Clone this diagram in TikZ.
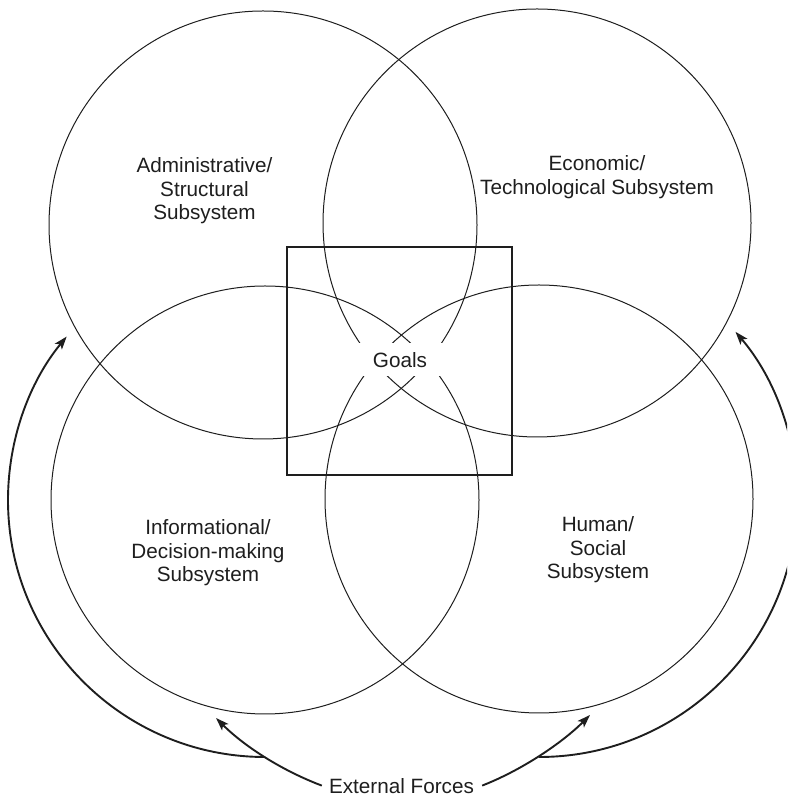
\documentclass[tikz,border=0pt]{standalone}
\usepackage{fontspec}
\setmainfont{Liberation Sans}
\usetikzlibrary{arrows.meta}
\definecolor{ink}{RGB}{30,30,30}
\begin{document}
\begin{tikzpicture}[x=1pt,y=1pt,
  ring/.style={draw=ink,line width=1pt,circle,minimum size=428pt,inner sep=0pt},
  goalbox/.style={draw=ink,line width=1.1pt,minimum width=225pt,minimum height=228pt,inner sep=0pt},
  lbl/.style={align=center,font=\fontsize{20.7}{23.5}\selectfont,text=ink,inner sep=0pt},
  force/.style={draw=ink,line width=1.9pt,-{Stealth[length=13pt,width=9pt,inset=3pt]}}]
\useasboundingbox (0,0) rectangle (787,797);
\clip (0,0) rectangle (787,797);
% subsystem circles
\node[ring] (adm) at (263,572) {};
\node[ring] (eco) at (537,574) {};
\node[ring] (inf) at (265,297) {};
\node[ring] (hum) at (539,298) {};
% goals square
\node[goalbox] (sq) at (399.5,436) {};
\node[lbl,fill=white,minimum width=120pt,minimum height=33pt] (goals) at (400,437) {Goals};
% labels
\node[lbl] (admt) at (204.5,606) {Administrative/\\Structural\\Subsystem};
\node[lbl] (ecot) at (597,620) {Economic/\\Technological Subsystem};
\node[lbl] (inft) at (208,244) {Informational/\\Decision-making\\Subsystem};
\node[lbl] (humt) at (598,247) {Human/\\Social\\Subsystem};
\node[lbl,anchor=base] (ef) at (401.5,4) {External Forces};
% arrows
\coordinate (lj) at (265,40);
\coordinate (rj) at (539,40);
\coordinate (tipl) at (216,79);
\coordinate (tipr) at (590,82);
\draw[force] (lj) arc[start angle=-90,end angle=-219.5,radius=257];
\draw[force] (rj) arc[start angle=-90,end angle=40.4,radius=258];
\draw[force] ([xshift=-7pt]ef.west) .. controls (283,26) and (245,50) .. (tipl);
\draw[force] ([xshift=8pt]ef.east) .. controls (522,27) and (562,54) .. (tipr);
\end{tikzpicture}
\end{document}
